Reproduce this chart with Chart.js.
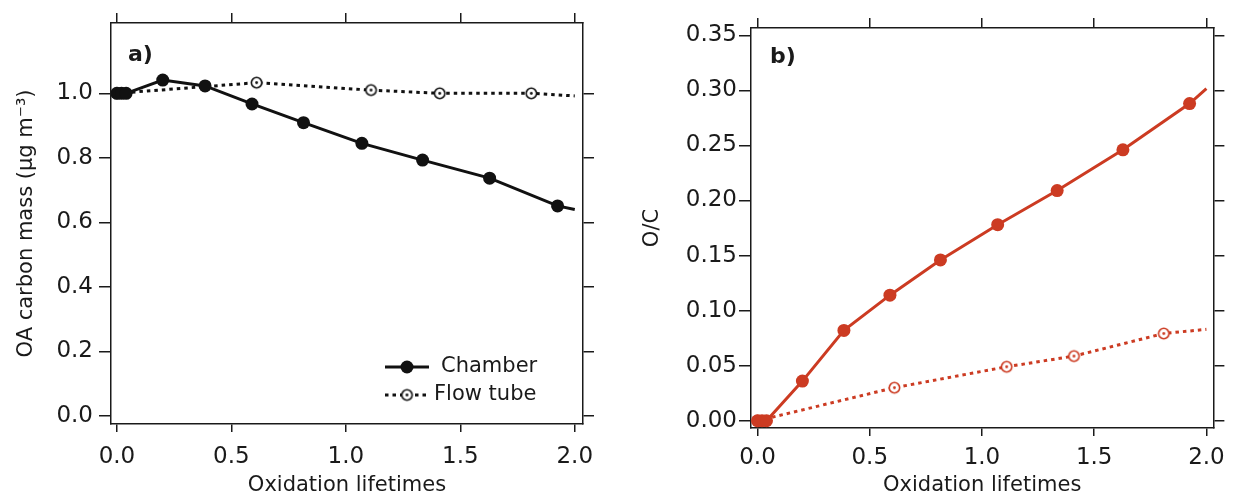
<!DOCTYPE html>
<html>
<head>
<meta charset="utf-8">
<script src="https://cdn.jsdelivr.net/npm/chart.js@4.4.1/dist/chart.umd.min.js"></script>
<style>
  body { margin: 0; background: #fff; }
  .panel { position: absolute; top: 0; }
</style>
</head>
<body>
<div class="panel" style="left:0"><canvas id="chartA" width="620" height="498"></canvas></div>
<div class="panel" style="left:620px"><canvas id="chartB" width="613" height="498"></canvas></div>
<script>
// oxidation lifetimes for each run
var chamberX = [0, 0.02, 0.04, 0.2, 0.385, 0.59, 0.815, 1.07, 1.335, 1.628, 1.925, 2.0];
var flowX = [0, 0.61, 1.11, 1.41, 1.81, 2.0];

// a) OA carbon mass (ug m-3)
var chamberMass = [1.0, 1.0, 1.0, 1.041, 1.023, 0.967, 0.909, 0.845, 0.793, 0.737, 0.651, 0.64];
var flowMass = [1.0, 1.033, 1.010, 1.0, 1.0, 0.992];

// b) O/C
var chamberOC = [0, 0, 0, 0.036, 0.082, 0.114, 0.146, 0.178, 0.209, 0.246, 0.288, 0.3015];
var flowOC = [0, 0.030, 0.049, 0.0587, 0.0792, 0.083];

var xTicks = [0, 0.5, 1.0, 1.5, 2.0];
var yTicksA = [0, 0.2, 0.4, 0.6, 0.8, 1.0];
var yTicksB = [0, 0.05, 0.10, 0.15, 0.20, 0.25, 0.30, 0.35];

var FONT = '"DejaVu Sans", sans-serif';
var INK = '#1a1a1a';
var RED = '#cc3b22';

// open circle with a dot in the middle (flow tube marker)
function ringMarker(color) {
  var c = document.createElement('canvas');
  c.width = 15; c.height = 15;
  var g = c.getContext('2d');
  g.beginPath();
  g.arc(7.5, 7.5, 5.2, 0, Math.PI * 2);
  g.fillStyle = '#fff';
  g.fill();
  g.lineWidth = 1.6;
  g.strokeStyle = color;
  g.stroke();
  g.beginPath();
  g.arc(7.5, 7.5, 1.4, 0, Math.PI * 2);
  g.fillStyle = color;
  g.fill();
  return c;
}

function pts(xs, ys) {
  return xs.map(function (x, i) { return { x: x, y: ys[i] }; });
}

// last point only ends the line, no marker
function endless(r) {
  return function (ctx) { return ctx.parsed && ctx.parsed.x >= 2 ? 0 : r; };
}

function setTicks(list) {
  return function (scale) { scale.ticks = list.map(function (v) { return { value: v }; }); };
}

function axes(o) {
  var grid = function (len) {
    return { drawOnChartArea: false, drawTicks: true, tickLength: len, color: INK, lineWidth: 1.5 };
  };
  var border = { display: true, color: INK, width: 1.5 };
  return {
    x: {
      type: 'linear', position: 'bottom', min: o.xMin, max: o.xMax,
      afterBuildTicks: setTicks(xTicks),
      afterFit: function (s) { s.height = o.bottomH; },
      ticks: { callback: function (v) { return v.toFixed(1); }, font: { family: FONT, size: 23 },
               color: INK, padding: o.xPad, maxRotation: 0, autoSkip: false },
      grid: grid(8), border: border,
      title: { display: true, text: 'Oxidation lifetimes', color: INK,
               font: { family: FONT, size: 21 }, padding: { top: 0, bottom: 0 } }
    },
    x2: {
      type: 'linear', position: 'top', min: o.xMin, max: o.xMax,
      afterBuildTicks: setTicks(xTicks),
      afterFit: function (s) { s.height = o.topH; },
      ticks: { display: false }, grid: grid(10), border: border
    },
    y: {
      type: 'linear', position: 'left', min: o.yMin, max: o.yMax,
      afterBuildTicks: setTicks(o.yTicks),
      afterFit: function (s) { s.width = o.leftW; },
      ticks: { callback: function (v) { return v.toFixed(o.digits); }, font: { family: FONT, size: 23 },
               color: INK, padding: o.yPad, autoSkip: false },
      grid: grid(12), border: border,
      title: { display: true, text: o.yTitle, color: INK,
               font: { family: FONT, size: 21 }, padding: { top: o.titlePad, bottom: 0 } }
    },
    y2: {
      type: 'linear', position: 'right', min: o.yMin, max: o.yMax,
      afterBuildTicks: setTicks(o.yTicks),
      afterFit: function (s) { s.width = 12; },
      ticks: { display: false }, grid: grid(11), border: border
    }
  };
}

// "a)" / "b)" in the upper left corner of the plot
var panelLabel = {
  id: 'panelLabel',
  afterDraw: function (chart, args, opts) {
    var ctx = chart.ctx, a = chart.chartArea;
    ctx.save();
    ctx.font = 'bold 22px ' + FONT;
    ctx.fillStyle = INK;
    ctx.textBaseline = 'middle';
    ctx.fillText(opts.text, a.left + opts.dx, a.top + opts.dy);
    ctx.restore();
  }
};

// legend inside panel a, line + marker samples
var sampleLegend = {
  id: 'sampleLegend',
  afterDraw: function (chart, args, opts) {
    if (!opts.show) return;
    var ctx = chart.ctx;
    ctx.save();
    chart.data.datasets.forEach(function (ds, i) {
      var y = opts.y + i * 28, x = opts.x;
      ctx.beginPath();
      ctx.setLineDash(ds.borderDash || []);
      ctx.lineWidth = ds.borderWidth;
      ctx.strokeStyle = ds.borderColor;
      ctx.moveTo(x, y);
      ctx.lineTo(x + 44, y);
      ctx.stroke();
      ctx.setLineDash([]);
      if (ds.pointStyle === 'circle') {
        ctx.beginPath();
        ctx.arc(x + 22, y, 6.5, 0, Math.PI * 2);
        ctx.fillStyle = ds.pointBackgroundColor;
        ctx.fill();
      } else {
        ctx.drawImage(ds.pointStyle, x + 22 - 7.5, y - 7.5);
      }
      ctx.font = '21px ' + FONT;
      ctx.fillStyle = INK;
      ctx.textBaseline = 'middle';
      ctx.fillText(ds.label, x + opts.textOffsets[i], y);
    });
    ctx.restore();
  }
};

function datasets(color, chamberY, flowY) {
  return [
    {
      label: 'Chamber', data: pts(chamberX, chamberY),
      borderColor: color, borderWidth: 3, tension: 0,
      pointStyle: 'circle', pointRadius: endless(6.5), pointBackgroundColor: color,
      pointBorderColor: color, pointBorderWidth: 0
    },
    {
      label: 'Flow tube', data: pts(flowX, flowY),
      borderColor: color, borderWidth: 3, borderDash: [3.5, 4], tension: 0,
      pointStyle: ringMarker(color), pointRadius: endless(7)
    }
  ];
}

var common = {
  responsive: false, animation: false, devicePixelRatio: 1,
  plugins: { legend: { display: false }, tooltip: { enabled: false } }
};

new Chart(document.getElementById('chartA'), {
  type: 'line',
  data: { datasets: datasets('#111', chamberMass, flowMass) },
  options: Object.assign({}, common, {
    layout: { padding: { left: 0, right: 25, top: 0, bottom: 0 } },
    scales: axes({
      xMin: -0.026, xMax: 2.036, yMin: -0.025, yMax: 1.218, yTicks: yTicksA, digits: 1,
      leftW: 111, bottomH: 74, topH: 23, xPad: 11, yPad: 6, titlePad: 14,
      yTitle: 'OA carbon mass (μg m⁻³)'
    }),
    plugins: Object.assign({}, common.plugins, {
      panelLabel: { text: 'a)', dx: 17, dy: 32 },
      sampleLegend: { show: true, x: 385, y: 367, textOffsets: [56, 49] }
    })
  }),
  plugins: [panelLabel, sampleLegend]
});

new Chart(document.getElementById('chartB'), {
  type: 'line',
  data: { datasets: datasets(RED, chamberOC, flowOC) },
  options: Object.assign({}, common, {
    layout: { padding: { left: 0, right: 1, top: 0, bottom: 0 } },
    scales: axes({
      xMin: -0.029, xMax: 2.031, yMin: -0.0066, yMax: 0.3566, yTicks: yTicksB, digits: 2,
      leftW: 131, bottomH: 70, topH: 28, xPad: 8, yPad: 2, titlePad: 20,
      yTitle: 'O/C'
    }),
    plugins: Object.assign({}, common.plugins, {
      panelLabel: { text: 'b)', dx: 19, dy: 29 },
      sampleLegend: { show: false }
    })
  }),
  plugins: [panelLabel, sampleLegend]
});
</script>
</body>
</html>
